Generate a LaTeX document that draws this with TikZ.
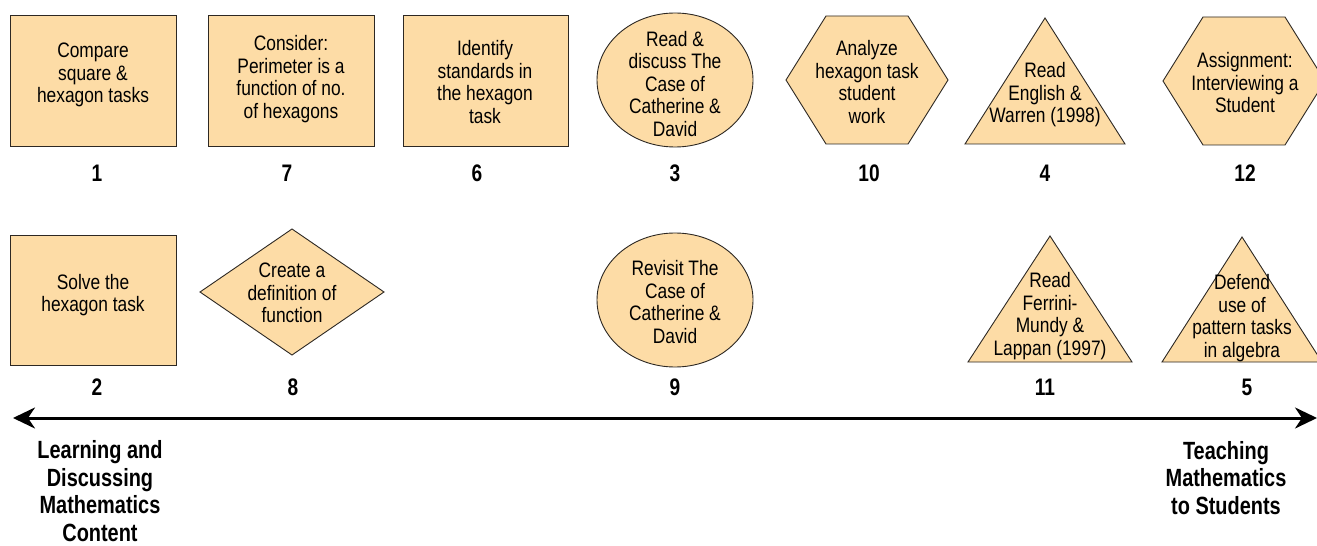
\documentclass[tikz,border=0pt]{standalone}
\usepackage{fontspec}
\setmainfont{Liberation Sans}[FakeStretch=0.83]
\newfontfamily\headfont{Liberation Sans}[FakeStretch=0.8]
\usetikzlibrary{arrows.meta}
\definecolor{tan}{RGB}{253,220,166}
\definecolor{edge}{RGB}{45,40,35}
\tikzset{
  shapebox/.style={fill=tan, draw=edge, line width=0.9bp},
  body/.style={inner sep=0pt, align=center, font=\fontsize{21}{22.6}\selectfont},
  num/.style={inner sep=0pt, font=\headfont\bfseries\fontsize{24}{26}\selectfont},
  caption/.style={inner sep=0pt, align=center, font=\headfont\bfseries\fontsize{25}{27.6}\selectfont},
}
\begin{document}
\begin{tikzpicture}[x=1bp,y=-1bp]
\clip (0,0) rectangle (1317,546);
\fill[white] (0,0) rectangle (1317,546);

% top row of activities
\path[shapebox] (10,15) rectangle (176,146);
\node[body] (t1) at (93,75) {Compare\\square \&\\hexagon tasks};
\node[num] (n1) at (97,173) {1};

\path[shapebox] (208,15) rectangle (374,146);
\node[body] (t7) at (291,79) {Consider:\\Perimeter is a\\function of no.\\of hexagons};
\node[num] (n7) at (287,173) {7};

\path[shapebox] (403,15) rectangle (568,146);
\node[body] (t6) at (485,82) {Identify\\standards in\\the hexagon\\task};
\node[num] (n6) at (477,173) {6};

\path[shapebox] (675,80) ellipse [x radius=78bp, y radius=67bp];
\node[body] (t3) at (675,84) {Read \&\\discuss The\\Case of\\Catherine \&\\David};
\node[num] (n3) at (675,173) {3};

\path[shapebox] (786,80) -- (826,16) -- (908,16) -- (948,80) -- (908,144) -- (826,144) -- cycle;
\node[body] (t10) at (867,82) {Analyze\\hexagon task\\student\\work};
\node[num] (n10) at (869,173) {10};

\path[shapebox] (1045,18) -- (1125,144) -- (965,144) -- cycle;
\node[body] (t4) at (1045,95) {Read\\English \&\\Warren (1998)};
\node[num] (n4) at (1045,173) {4};

\path[shapebox] (1163,81) -- (1203,17) -- (1285,17) -- (1325,81) -- (1285,145) -- (1203,145) -- cycle;
\node[body] (t12) at (1245,83) {Assignment:\\Interviewing a\\Student};
\node[num] (n12) at (1245,173) {12};

% bottom row of activities
\path[shapebox] (10,235) rectangle (176,365);
\node[body] (t2) at (93,295) {Solve the\\hexagon task};
\node[num] (n2) at (97,387) {2};

\path[shapebox] (200,292) -- (292,229) -- (384,292) -- (292,355) -- cycle;
\node[body] (t8) at (292,293) {Create a\\definition of\\function};
\node[num] (n8) at (293,387) {8};

\path[shapebox] (675,300) ellipse [x radius=78bp, y radius=67bp];
\node[body] (t9) at (675,302) {Revisit The\\Case of\\Catherine \&\\David};
\node[num] (n9) at (675,387) {9};

\path[shapebox] (1050,236) -- (1132,362) -- (968,362) -- cycle;
\node[body] (t11) at (1050,316) {Read\\Ferrini-\\Mundy \&\\Lappan (1997)};
\node[num] (n11) at (1045,387) {11};

\path[shapebox] (1242,237) -- (1322,362) -- (1162,362) -- cycle;
\node[body] (t5) at (1242,318) {Defend\\use of\\pattern tasks\\in algebra};
\node[num] (n5) at (1247,387) {5};

% continuum axis
\coordinate (axisL) at (13,418);
\coordinate (axisR) at (1317,418);
\draw[line width=3bp, {Stealth[length=22bp,width=21bp,inset=7bp]}-{Stealth[length=22bp,width=21bp,inset=7bp]}] (axisL) -- (axisR);

\node[caption] (capL) at (100,491) {Learning and\\Discussing\\Mathematics\\Content};
\node[caption] (capR) at (1226,478) {Teaching\\Mathematics\\to Students};
\end{tikzpicture}
\end{document}
